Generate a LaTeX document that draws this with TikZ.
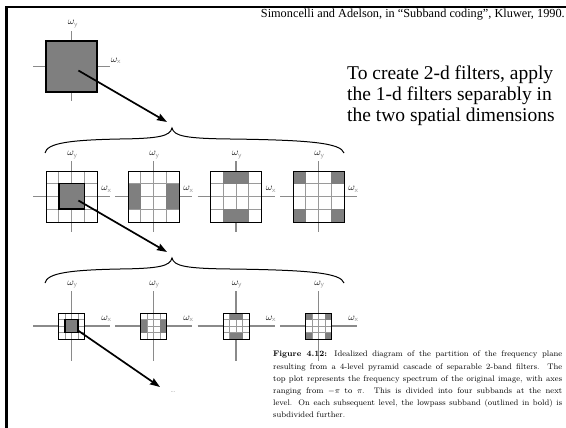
\documentclass[tikz,border=0pt]{standalone}
\usepackage{fontspec}
\newfontfamily\slidefont{Liberation Serif}
\usepackage{tikz}
\usepackage{xcolor}
\usetikzlibrary{arrows.meta, positioning, calc}
\definecolor{BandFill}{HTML}{7F7F7F}
\definecolor{AxisInk}{HTML}{8A8A8A}
\definecolor{GridInk}{HTML}{9A9A9A}
\newcommand{\freqx}{$\omega_{\textcolor{AxisInk}{\mathsf{x}}}$}
\newcommand{\freqy}{$\omega_{\textcolor{AxisInk}{\mathsf{y}}}$}

\begin{document}
\begin{tikzpicture}[
    x=1pt, y=-1pt,
    axis/.style={draw=AxisInk, line width=1.1pt},
    cellgrid/.style={draw=GridInk, line width=0.8pt},
    plane/.style={fill=white, inner sep=0pt, outer sep=0pt},
    planeedge/.style={draw=black, line width=0.9pt},
    band/.style={fill=BandFill},
    lowpass/.style={draw=black, line width=1.5pt, fill=BandFill, inner sep=0pt, outer sep=0pt},
    omlabel/.style={font=\fontsize{10}{12}\selectfont, inner sep=0pt},
    jump/.style={-{Stealth[length=10pt, width=7pt, inset=1pt]}, line width=1.7pt, shorten <=8pt},
    bracepath/.style={line width=1pt},
  ]
    \useasboundingbox (0,0) rectangle (566,428);
    \draw[line width=2.6pt] (6.2,428) -- (6.2,7) -- (566,7);

    \node[font=\slidefont\fontsize{12.3}{14}\selectfont, anchor=east, inner sep=0pt]
      (credit) at (565,15) {Simoncelli and Adelson, in “Subband coding”, Kluwer, 1990.};
    \node[font=\slidefont\fontsize{19.5}{21}\selectfont, anchor=north west, align=left, inner sep=0pt]
      (note) at (347,66) {To create 2-d filters, apply\\the 1-d filters separably in\\the two spatial dimensions};

    % level 1
    \draw[axis] (33,66.5) -- (110,66.5);
    \draw[axis] (71.5,31.5) -- (71.5,101.5);
    \node[lowpass, minimum size=51pt] (lp1) at (71.5,66.5) {};
    \node[omlabel] (wy1) at (73,24) {\freqy};
    \node[omlabel] (wx1) at (116,61) {\freqx};

    % levels 2 and 3
    \foreach \lv/\cy/\s in {2/196.5/51, 3/326/26} {
      \foreach \p/\cx in {a/71.5, b/153.5, c/236, d/318.5} {
        \draw[axis] (\cx-38.5,\cy) -- (\cx+38.5,\cy);
        \draw[axis] (\cx,\cy-35) -- (\cx,\cy+35);
        \node[plane, minimum size=\s*1pt] (pl\lv\p) at (\cx,\cy) {};
        \foreach \k in {1,2,3} {
          \draw[cellgrid] (\cx-\s/2+\k*\s/4,\cy-\s/2) -- (\cx-\s/2+\k*\s/4,\cy+\s/2);
          \draw[cellgrid] (\cx-\s/2,\cy-\s/2+\k*\s/4) -- (\cx+\s/2,\cy-\s/2+\k*\s/4);
        }
        \node[omlabel] (wy\lv\p) at (\cx+1,\cy-41.5) {\freqy};
        \node[omlabel] (wx\lv\p) at (\cx+35,\cy-7) {\freqx};
      }
      \fill[band] (153.5-\s/2,\cy-\s/4) rectangle ++(\s/4,\s/2);
      \fill[band] (153.5+\s/4,\cy-\s/4) rectangle ++(\s/4,\s/2);
      \fill[band] (236-\s/4,\cy-\s/2) rectangle ++(\s/2,\s/4);
      \fill[band] (236-\s/4,\cy+\s/4) rectangle ++(\s/2,\s/4);
      \fill[band] (318.5-\s/2,\cy-\s/2) rectangle ++(\s/4,\s/4);
      \fill[band] (318.5+\s/4,\cy-\s/2) rectangle ++(\s/4,\s/4);
      \fill[band] (318.5-\s/2,\cy+\s/4) rectangle ++(\s/4,\s/4);
      \fill[band] (318.5+\s/4,\cy+\s/4) rectangle ++(\s/4,\s/4);
      \foreach \p in {a,b,c,d}
        \draw[planeedge] (pl\lv\p.north west) rectangle (pl\lv\p.south east);
      \node[lowpass, minimum size=\s*0.5pt] (lp\lv) at (71.5,\cy) {};
    }

    % braces
    \foreach \yo in {0,130}
      \draw[bracepath] (45,153+\yo) .. controls (47,143+\yo) and (70,140+\yo) .. (120,139+\yo)
        .. controls (160,138.5+\yo) and (170,136+\yo) .. (172,128+\yo)
        .. controls (174,136+\yo) and (185,138.5+\yo) .. (230,139+\yo)
        .. controls (310,140+\yo) and (341,143+\yo) .. (344,153+\yo);

    \coordinate (tip1) at (167,122);
    \coordinate (tip2) at (167,252);
    \coordinate (tip3) at (160,387);
    \node[font=\scriptsize, text=gray, inner sep=0pt] (more) at (173,392) {\ldots};
    \draw[jump] (lp1.center) -- (tip1);
    \draw[jump] (lp2.center) -- (tip2);
    \draw[jump] (lp3.center) -- (tip3);

    \node[anchor=north west, inner sep=0pt, text width=289pt, align=justify,
      font=\fontsize{8.1}{12.2}\selectfont] (caption) at (273,351) {%
      \textbf{Figure 4.12:} Idealized diagram of the partition of the frequency plane\linebreak
      resulting from a 4-level pyramid cascade of separable 2-band filters. The\linebreak
      top plot represents the frequency spectrum of the original image, with axes\linebreak
      ranging from $-\pi$ to $\pi$. This is divided into four subbands at the next\linebreak
      level. On each subsequent level, the lowpass subband (outlined in bold) is\linebreak
      subdivided further.};
  \end{tikzpicture}
\end{document}
